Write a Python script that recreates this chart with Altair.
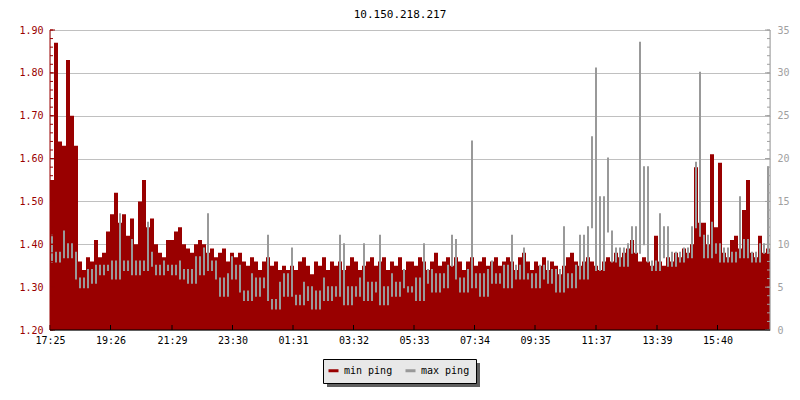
import altair as alt
import pandas as pd

title_text = "10.150.218.217"
tick_labels = ["17:25", "19:26", "21:29", "23:30", "01:31", "03:32",
               "05:33", "07:34", "09:35", "11:37", "13:39", "15:40"]
series_names = ["min ping", "max ping"]
series_colors = ["#990000", "#999999"]

# min ping (left axis), one value per 8 minutes starting 17:25
min_ping = [
    1.55, 1.87, 1.64, 1.63, 1.83, 1.70, 1.63, 1.36, 1.34, 1.37,
    1.36, 1.41, 1.37, 1.38, 1.43, 1.47, 1.52, 1.45, 1.47, 1.42,
    1.46, 1.40, 1.50, 1.55, 1.44, 1.46, 1.40, 1.38, 1.37, 1.41,
    1.41, 1.43, 1.44, 1.40, 1.39, 1.38, 1.40, 1.41, 1.40, 1.38,
    1.39, 1.37, 1.38, 1.39, 1.36, 1.38, 1.37, 1.38, 1.36, 1.35,
    1.37, 1.36, 1.34, 1.36, 1.37, 1.35, 1.36, 1.34, 1.35, 1.34,
    1.35, 1.34, 1.36, 1.37, 1.35, 1.33, 1.36, 1.35, 1.37, 1.34,
    1.36, 1.35, 1.36, 1.34, 1.35, 1.37, 1.36, 1.34, 1.35, 1.36,
    1.37, 1.35, 1.36, 1.37, 1.34, 1.36, 1.35, 1.37, 1.34, 1.36,
    1.36, 1.35, 1.37, 1.36, 1.34, 1.36, 1.38, 1.35, 1.36, 1.37,
    1.35, 1.37, 1.36, 1.34, 1.36, 1.37, 1.35, 1.36, 1.37, 1.35,
    1.36, 1.37, 1.35, 1.36, 1.37, 1.36, 1.34, 1.37, 1.38, 1.36,
    1.34, 1.36, 1.35, 1.37, 1.34, 1.36, 1.35, 1.33, 1.35, 1.37,
    1.38, 1.36, 1.35, 1.36, 1.37, 1.36, 1.35, 1.34, 1.36, 1.37,
    1.36, 1.38, 1.37, 1.38, 1.39, 1.41, 1.38, 1.36, 1.37, 1.36,
    1.35, 1.42, 1.36, 1.35, 1.37, 1.36, 1.38, 1.37, 1.39, 1.38,
    1.40, 1.58, 1.45, 1.45, 1.40, 1.61, 1.44, 1.59, 1.38, 1.37,
    1.41, 1.42, 1.39, 1.48, 1.55, 1.38, 1.37, 1.42, 1.38, 1.39,
]

# max ping (right axis)
max_ping = [
    11.0, 8.0, 9.0, 11.5, 8.5, 10.0, 9.0, 6.0, 5.0, 7.0,
    5.5, 7.5, 6.5, 7.5, 7.0, 8.0, 6.0, 13.5, 8.0, 7.0,
    10.5, 6.5, 8.0, 7.0, 12.5, 9.0, 7.5, 6.5, 8.0, 7.0,
    7.5, 6.5, 8.0, 6.0, 7.0, 5.5, 8.5, 6.5, 9.5, 13.5,
    7.0, 8.0, 6.0, 4.0, 6.5, 8.5, 6.0, 7.5, 4.5, 3.5,
    6.5, 4.0, 6.0, 5.0, 11.0, 3.5, 2.5, 5.5, 6.5, 4.0,
    9.5, 4.0, 3.0, 5.5, 3.5, 5.0, 2.5, 4.5, 6.0, 3.5,
    5.0, 4.0, 11.0, 10.0, 3.0, 5.0, 4.0, 6.0, 10.0, 3.5,
    5.5, 4.5, 11.0, 3.0, 5.0, 6.5, 4.0, 5.5, 7.0, 5.0,
    4.5, 6.0, 3.5, 10.0, 5.5, 7.0, 4.5, 6.5, 5.0, 7.5,
    11.0, 10.5, 6.0, 4.5, 7.0, 22.0, 5.0, 6.5, 4.0, 7.0,
    8.0, 5.5, 6.5, 7.5, 5.0, 11.0, 6.0, 7.5, 9.5, 6.0,
    6.5, 5.0, 7.5, 6.0, 8.0, 5.5, 7.0, 4.5, 12.0, 6.5,
    5.0, 7.5, 11.0, 6.0, 12.0, 22.5, 30.5, 7.0, 15.5, 20.0,
    11.5, 8.0, 9.5, 7.5, 10.0, 12.0, 9.0, 33.5, 10.0, 19.0,
    8.0, 7.0, 13.5, 8.5, 12.0, 7.5, 9.0, 8.0, 9.5, 8.5,
    12.0, 19.5, 30.0, 11.0, 8.5, 12.5, 9.0, 10.0, 8.0, 9.5,
    8.0, 9.0, 15.5, 8.5, 10.5, 9.0, 8.0, 10.0, 9.0, 19.0,
]

left_major = [1.2, 1.3, 1.4, 1.5, 1.6, 1.7, 1.8, 1.9]
right_major = [0, 5, 10, 15, 20, 25, 30, 35]

STEP = 8      # minutes per sample
SPAN = 1440   # minutes shown
W, H = 720, 300
FONT = "DejaVu Sans Mono"
RED = "#990000"
AXGREY = "#a0a0a0"


def minutes_from_start(lbl):
    h, m = map(int, lbl.split(":"))
    return ((h * 60 + m) - (17 * 60 + 25)) % 1440


tick_minutes = [minutes_from_start(l) for l in tick_labels]
left_minor = [round(1.2 + 0.02 * k, 2) for k in range(36)]
right_minor = list(range(0, 36))

n = len(min_ping)
df = pd.DataFrame({
    "t": [STEP * i for i in range(n)] + [SPAN],
    "min": min_ping + [min_ping[-1]],
})
# max ping drawn rrdtool-style: each sample is a vertical stroke joining
# its value to the lower of its two neighbours
lo = []
for i in range(n):
    nb = min(max_ping[max(i - 1, 0)], max_ping[min(i + 1, n - 1)])
    lo.append(nb)
df_max = pd.DataFrame({
    "t": [STEP * i + STEP / 2 for i in range(n)],
    "max": max_ping,
    "lo": lo,
})

x_scale = alt.Scale(domain=[0, SPAN], nice=False, zero=False)
left_scale = alt.Scale(domain=[1.2, 1.9], nice=False, zero=False)
right_scale = alt.Scale(domain=[0, 35], nice=False, zero=False)

label_expr = ("[" + ",".join(f"'{l}'" for l in tick_labels) + "][indexof(["
              + ",".join(str(m) for m in tick_minutes) + "], datum.value)]")

area = alt.Chart(df).mark_area(interpolate="step-after", color=RED, clip=True).encode(
    x=alt.X("t:Q", scale=x_scale,
            axis=alt.Axis(values=tick_minutes, labelExpr=label_expr, title=None,
                          domain=False, ticks=False, tickSize=0, grid=False,
                          labelFont=FONT, labelFontSize=10, labelColor="black",
                          labelPadding=5, labelFlush=False, labelOverlap=False)),
    y=alt.Y("min:Q", scale=left_scale,
            axis=alt.Axis(orient="left", values=left_major, format=".2f", title=None,
                          domain=False, ticks=False, tickSize=0, grid=True,
                          gridColor="#c0c0c0", gridWidth=1, labelColor=RED,
                          labelFont=FONT, labelFontSize=10, labelPadding=7)),
    y2=alt.datum(1.2),
)

maxline = alt.Chart(df_max).mark_rule(strokeWidth=2, strokeCap="square", clip=True).transform_calculate(
    series="'max ping'"
).encode(
    x=alt.X("t:Q", scale=x_scale),
    y=alt.Y("max:Q", scale=right_scale,
            axis=alt.Axis(orient="right", values=right_major, title=None,
                          domain=False, ticks=False, tickSize=0, grid=False,
                          labelColor=AXGREY, labelFont=FONT, labelFontSize=10,
                          labelPadding=7)),
    y2="lo:Q",
    color=alt.Color("series:N", scale=alt.Scale(domain=series_names, range=series_colors),
                    legend=alt.Legend(title=None, orient="none", legendX=273, legendY=330,
                                      direction="horizontal", padding=4,
                                      symbolType="stroke", symbolStrokeWidth=3,
                                      symbolSize=100, labelFont=FONT, labelFontSize=10,
                                      labelColor="black", columnPadding=6, labelOffset=4,
                                      zindex=1)),
)

one = pd.DataFrame({"k": [0]})

left_minor_ticks = alt.Chart(pd.DataFrame({"v": left_minor})).mark_rule(color=RED).encode(
    y=alt.Y("v:Q", scale=left_scale, axis=None), x=alt.value(0), x2=alt.value(3))
left_major_ticks = alt.Chart(pd.DataFrame({"v": left_major})).mark_rule(color=RED).encode(
    y=alt.Y("v:Q", scale=left_scale, axis=None), x=alt.value(0), x2=alt.value(5))
right_minor_ticks = alt.Chart(pd.DataFrame({"v": right_minor})).mark_rule(color=AXGREY).encode(
    y=alt.Y("v:Q", scale=right_scale, axis=None), x=alt.value(W - 3), x2=alt.value(W))
right_major_ticks = alt.Chart(pd.DataFrame({"v": right_major})).mark_rule(color=AXGREY).encode(
    y=alt.Y("v:Q", scale=right_scale, axis=None), x=alt.value(W - 5), x2=alt.value(W))
x_ticks = alt.Chart(pd.DataFrame({"t": tick_minutes})).mark_rule(color="black").encode(
    x=alt.X("t:Q", scale=x_scale), y=alt.value(H - 5), y2=alt.value(H))

left_domain = alt.Chart(one).mark_rule(color=RED).encode(
    x=alt.value(0), y=alt.value(0), y2=alt.value(H))
right_domain = alt.Chart(one).mark_rule(color=AXGREY).encode(
    x=alt.value(W), y=alt.value(0), y2=alt.value(H))
bottom_domain = alt.Chart(one).mark_rule(color="black").encode(
    x=alt.value(0), x2=alt.value(W), y=alt.value(H))

# legend frame: drop shadow and box
legend_shadow = alt.Chart(one).mark_rect(color="#606060").encode(
    x=alt.value(277), x2=alt.value(430), y=alt.value(333), y2=alt.value(357))
legend_box = alt.Chart(one).mark_rect(fill="#e8e8e8", stroke="black", strokeWidth=1).encode(
    x=alt.value(273.5), x2=alt.value(426.5), y=alt.value(329.5), y2=alt.value(353.5))

chart = alt.layer(
    area, maxline, left_minor_ticks, left_major_ticks, right_minor_ticks, right_major_ticks,
    x_ticks, left_domain, right_domain, bottom_domain, legend_shadow, legend_box
).resolve_scale(y="independent").properties(
    width=W, height=H,
    autosize=alt.AutoSizeParams(type="none"),
    padding={"left": 42, "top": 22, "right": 22, "bottom": 62},
    title=alt.TitleParams(text=title_text, font=FONT, fontSize=11, fontWeight="normal",
                          color="black", anchor="middle", offset=5, dx=-10),
).configure_view(stroke=None).configure(background="white")

chart.save("out.html", embed_options={"renderer": "svg", "actions": False})
